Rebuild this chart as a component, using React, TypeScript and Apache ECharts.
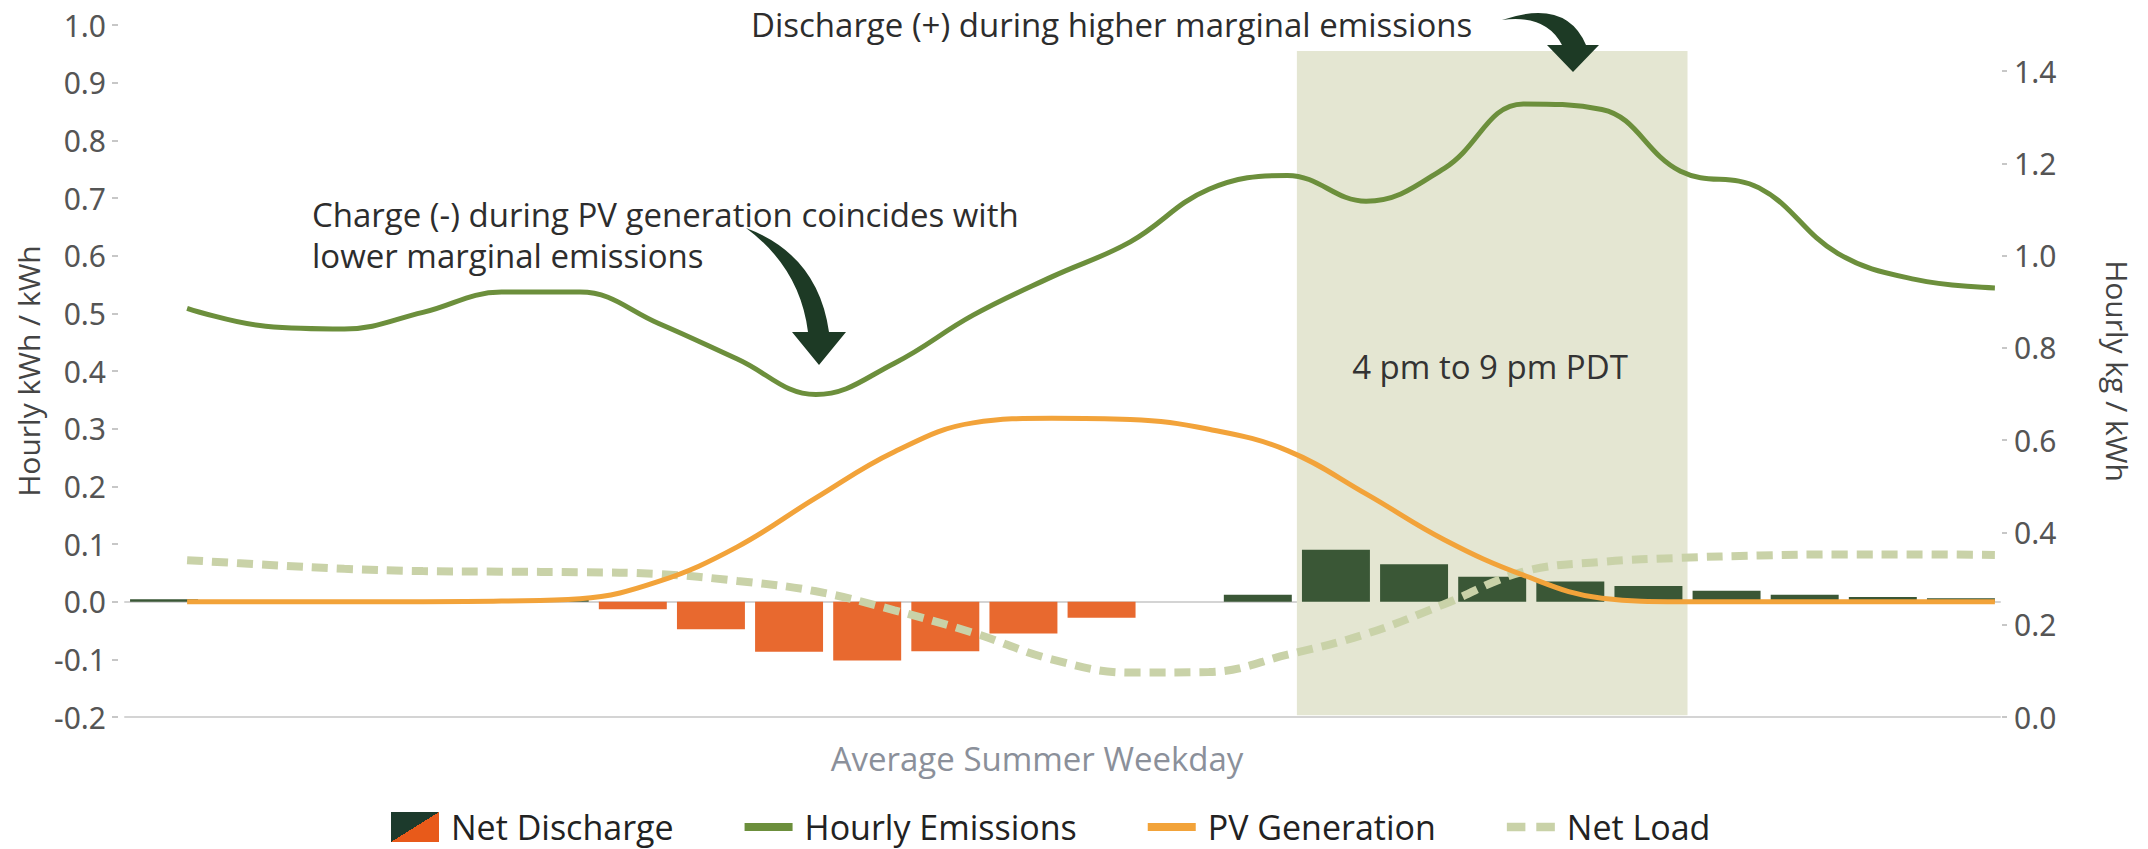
import React, { useEffect, useRef } from "react";
import * as echarts from "echarts";

// ---------- data ----------
const HOURS = ["0", "1", "2", "3", "4", "5", "6", "7", "8", "9", "10", "11", "12", "13", "14", "15", "16", "17", "18", "19", "20", "21", "22", "23"];
const NET_DISCHARGE = [0.004, 0.003, 0.003, 0.003, 0.003, 0.003, -0.013, -0.048, -0.087, -0.102, -0.086, -0.055, -0.028, 0, 0.012, 0.09, 0.065, 0.043, 0.035, 0.027, 0.019, 0.012, 0.008, 0.006];
const HOURLY_EMISSIONS = [0.886, 0.847, 0.841, 0.877, 0.921, 0.921, 0.853, 0.776, 0.699, 0.767, 0.871, 0.954, 1.03, 1.144, 1.174, 1.118, 1.19, 1.329, 1.317, 1.183, 1.147, 1.005, 0.948, 0.93];
const PV_GENERATION = [0, 0, 0, 0, 0.001, 0.005, 0.035, 0.095, 0.18, 0.26, 0.31, 0.318, 0.316, 0.299, 0.262, 0.187, 0.107, 0.046, 0.006, 0, 0, 0, 0, 0];
const NET_LOAD = [0.072, 0.064, 0.057, 0.053, 0.052, 0.051, 0.048, 0.036, 0.018, -0.015, -0.054, -0.1, -0.123, -0.122, -0.092, -0.056, -0.004, 0.052, 0.069, 0.076, 0.08, 0.082, 0.082, 0.081];
const RIGHT_TICKS = [0, 0.2, 0.4, 0.6, 0.8, 1.0, 1.2, 1.4];
const PEAK_START_HOUR = 15;
const PEAK_END_HOUR = 20;
const PEAK_TOP = 0.955;

// ---------- styling ----------
const C_POS = "#3a5736";
const C_NEG = "#e8692f";
const C_EMIS = "#6c8f3c";
const C_PV = "#f2a33a";
const C_LOAD = "#c9d2a8";
const C_SHADE = "#e4e6d2";
const C_ARROW = "#1d3a25";
const FONT = "'Open Sans', 'Noto Sans', sans-serif";

const ARROW1 = "M 746 228 Q 818 255 829 332 L 846 332 L 819 365 L 792 332 L 808 332 Q 800 268 746 228 Z";
const ARROW2 = "M 1502 20 Q 1566 -2 1586 45 L 1599 45 L 1573 72 L 1547 45 L 1562 45 Q 1546 14 1502 20 Z";

let registered = false;
function registerArrows() {
  if (registered) return;
  registered = true;
  echarts.graphic.registerShape("arrow1", echarts.graphic.extendPath(ARROW1, {}));
  echarts.graphic.registerShape("arrow2", echarts.graphic.extendPath(ARROW2, {}));
}

// line series: point k sits at axis value k on this axis
const LX_MIN = -0.79;
const LX_MAX = 23.065;

export default function App() {
  const ref = useRef<HTMLDivElement>(null);

  useEffect(() => {
    if (!ref.current) return;
    registerArrows();
    const chart = echarts.init(ref.current, undefined, { renderer: "svg" });

    const toPairs = (arr: number[]) => arr.map((v, i) => [i, v]);
    const fmt = (v: number) => {
      const s = (Math.round(v * 10) / 10).toFixed(1);
      return s === "-0.0" ? "0.0" : s;
    };

    const option: any = {
      animation: false,
      backgroundColor: "#ffffff",
      grid: { left: 125, right: 148, top: 25, bottom: 132 },
      xAxis: [
        {
          type: "category",
          data: HOURS,
          position: "bottom",
          axisLine: { show: true, onZero: true, lineStyle: { color: "#d4d4d4", width: 2 } },
          axisTick: { show: false },
          axisLabel: { show: false },
          splitLine: { show: false },
        },
        {
          type: "value",
          min: LX_MIN,
          max: LX_MAX,
          show: false,
        },
        {
          type: "value",
          min: 0,
          max: 24,
          position: "bottom",
          z: 3,
          axisLine: { show: true, onZero: false, lineStyle: { color: "#d4d4d4", width: 2 } },
          axisTick: { show: false },
          axisLabel: { show: false },
          splitLine: { show: false },
        },
      ],
      yAxis: [
        {
          type: "value",
          min: -0.2,
          max: 1.0,
          interval: 0.1,
          position: "left",
          offset: 7,
          axisLine: { show: false, onZero: false },
          axisTick: { show: true, length: 6, lineStyle: { color: "#b5b5b5", width: 1.5 } },
          axisLabel: {
            formatter: fmt,
            fontSize: 30,
            fontFamily: "'Noto Sans', sans-serif",
            color: "#555",
            margin: 12,
          },
          splitLine: { show: false },
          name: "Hourly kWh / kWh",
          nameLocation: "middle",
          nameRotate: 90,
          nameGap: 72,
          nameTextStyle: { fontSize: 30, fontFamily: FONT, color: "#444" },
        },
        {
          type: "value",
          min: 0,
          max: 1.5,
          interval: 0.2,
          position: "right",
          offset: 2,
          axisLine: { show: false, onZero: false },
          axisTick: { show: true, length: 5, lineStyle: { color: "#b5b5b5", width: 1.5 } },
          axisLabel: {
            showMaxLabel: false,
            formatter: (v: number) => (RIGHT_TICKS.some((t) => Math.abs(t - v) < 1e-6) ? fmt(v) : ""),
            fontSize: 30,
            fontFamily: "'Noto Sans', sans-serif",
            color: "#555",
            margin: 12,
          },
          splitLine: { show: false },
          name: "Hourly kg / kWh",
          nameLocation: "middle",
          nameRotate: -90,
          nameGap: 100,
          nameTextStyle: { fontSize: 30, fontFamily: FONT, color: "#444" },
        },
      ],
      legend: {
        left: 386,
        top: 802,
        itemWidth: 48,
        itemHeight: 30,
        itemGap: 71,
        selectedMode: false,
        textStyle: { fontFamily: FONT, fontSize: 34, lineHeight: 40, color: "#222", padding: [0, 0, 0, 7] },
        data: [
          {
            name: "Net Discharge",
            icon: "rect",
            itemStyle: {
              color: {
                type: "linear",
                x: 0,
                y: 0,
                x2: 1,
                y2: 1,
                colorStops: [
                  { offset: 0, color: "#1c3a2c" },
                  { offset: 0.5, color: "#1c3a2c" },
                  { offset: 0.5, color: "#e85a1a" },
                  { offset: 1, color: "#e85a1a" },
                ],
              },
            },
          },
          { name: "Hourly Emissions", icon: "path://M0,0H48V8H0Z", itemStyle: { color: C_EMIS } },
          { name: "PV Generation", icon: "path://M0,0H48V8H0Z", itemStyle: { color: C_PV } },
          { name: "Net Load", icon: "path://M0,0H17V8H0Z M27,0H44V8H27Z", itemStyle: { color: C_LOAD } },
        ],
      },
      series: [
        {
          name: "Peak window",
          type: "line",
          xAxisIndex: 2,
          yAxisIndex: 0,
          data: [],
          z: 1,
          silent: true,
          markArea: {
            silent: true,
            itemStyle: { color: C_SHADE },
            data: [[{ xAxis: PEAK_START_HOUR, yAxis: -0.197 }, { xAxis: PEAK_END_HOUR, yAxis: PEAK_TOP }]],
          },
        },
        {
          name: "Net Discharge",
          type: "bar",
          xAxisIndex: 0,
          yAxisIndex: 0,
          data: NET_DISCHARGE,
          barCategoryGap: "13%",
          z: 2,
          itemStyle: { color: (p: any) => (p.value >= 0 ? C_POS : C_NEG) },
        },
        {
          name: "Net Load",
          type: "line",
          xAxisIndex: 1,
          yAxisIndex: 0,
          data: toPairs(NET_LOAD),
          smooth: 0.4,
          symbol: "none",
          z: 3,
          lineStyle: { color: C_LOAD, width: 8, type: [16, 9] },
          itemStyle: { color: C_LOAD },
        },
        {
          name: "PV Generation",
          type: "line",
          xAxisIndex: 1,
          yAxisIndex: 0,
          data: toPairs(PV_GENERATION),
          smooth: 0.4,
          symbol: "none",
          z: 4,
          lineStyle: { color: C_PV, width: 5 },
          itemStyle: { color: C_PV },
        },
        {
          name: "Hourly Emissions",
          type: "line",
          xAxisIndex: 1,
          yAxisIndex: 1,
          data: toPairs(HOURLY_EMISSIONS),
          smooth: 0.4,
          symbol: "none",
          z: 4,
          lineStyle: { color: C_EMIS, width: 5 },
          itemStyle: { color: C_EMIS },
        },
      ],
      graphic: [
        {
          type: "text",
          left: 312,
          top: 194,
          z: 20,
          silent: true,
          style: {
            text: "Charge (-) during PV generation coincides with\nlower marginal emissions",
            fontSize: 33,
            lineHeight: 41,
            fontFamily: FONT,
            fill: "#2d2d2d",
          },
        },
        {
          type: "text",
          left: 751,
          top: 4,
          z: 20,
          silent: true,
          style: {
            text: "Discharge (+) during higher marginal emissions",
            fontSize: 33,
            lineHeight: 41,
            fontFamily: FONT,
            fill: "#2d2d2d",
          },
        },
        {
          type: "text",
          x: 1490,
          y: 366,
          z: 20,
          silent: true,
          style: {
            text: "4 pm to 9 pm PDT",
            fontSize: 33,
            fontFamily: FONT,
            fill: "#333",
            align: "center",
            verticalAlign: "middle",
          },
        },
        {
          type: "text",
          x: 1037,
          y: 758,
          z: 20,
          silent: true,
          style: {
            text: "Average Summer Weekday",
            fontSize: 33,
            fontFamily: FONT,
            fill: "#8b909a",
            align: "center",
            verticalAlign: "middle",
          },
        },
        { type: "arrow1", x: 0, y: 0, z: 20, silent: true, style: { fill: C_ARROW } },
        { type: "arrow2", x: 0, y: 0, z: 20, silent: true, style: { fill: C_ARROW } },
      ],
    };

    chart.setOption(option);
    return () => chart.dispose();
  }, []);

  return (
    <div
      ref={ref}
      style={{ position: "fixed", left: 0, top: 0, width: 2148, height: 849, background: "#fff" }}
    />
  );
}
